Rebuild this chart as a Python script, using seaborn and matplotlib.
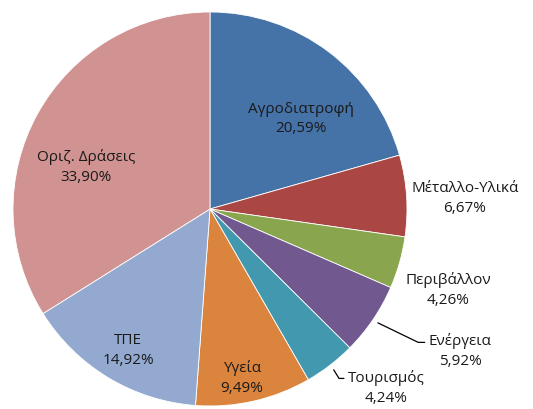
"""
Πίτα κατανομής ανά τομέα (αναπαραγωγή γραφήματος τύπου Excel).
"""
import numpy as np
import matplotlib
matplotlib.use('Agg')
import matplotlib.pyplot as plt
import seaborn as sns

# Δεδομένα
categories = ['Αγροδιατροφή', 'Μέταλλο-Υλικά', 'Περιβάλλον', 'Ενέργεια',
              'Τουρισμός', 'Υγεία', 'ΤΠΕ', 'Οριζ. Δράσεις']
shares = [20.59, 6.67, 4.26, 5.92, 4.24, 9.49, 14.92, 33.90]
colors = ['#4572A7', '#AA4643', '#89A54E', '#71588F',
          '#4198AF', '#DB843D', '#93A9CF', '#D19392']

# Θέσεις ετικετών (σε μονάδες ακτίνας της πίτας)
label_pos = [(0.462, 0.462), (1.294, 0.056), (1.208, -0.406), (1.269, -0.716),
             (0.895, -0.904), (0.162, -0.853), (-0.416, -0.711), (-0.629, 0.218)]
# Γραμμές οδηγοί: (ακτίνα αρχής, αγκώνας, τέλος)
leaders = {3: (1.03, (1.057, -0.677), (1.09, -0.677)),
           4: (1.03, (0.655, -0.86), (0.68, -0.86))}

sns.set_theme(style='white')
plt.rcParams['font.family'] = ['Open Sans', 'DejaVu Sans']

fig = plt.figure(figsize=(5.33, 4.10), dpi=100)
ax = fig.add_axes([13 / 533, 3 / 410, 394 / 533, 394 / 410])

wedges, _ = ax.pie(shares, colors=sns.color_palette(colors), startangle=90,
                   counterclock=False, radius=1.0,
                   wedgeprops=dict(edgecolor='white', linewidth=0.6))
ax.set_xlim(-1, 1)
ax.set_ylim(-1, 1)
ax.set_aspect('equal')
ax.axis('off')

for i, (cat, val) in enumerate(zip(categories, shares)):
    x, y = label_pos[i]
    pct = f'{val:.2f}%'.replace('.', ',')
    ax.text(x, y, f'{cat}\n{pct}', ha='center', va='center', fontsize=11,
            color='#1a1a1a', linespacing=1.45, clip_on=False)

for i, (r0, elbow, end) in leaders.items():
    w = wedges[i]
    theta = np.deg2rad((w.theta1 + w.theta2) / 2)
    start = (r0 * np.cos(theta), r0 * np.sin(theta))
    ax.plot([start[0], elbow[0], end[0]], [start[1], elbow[1], end[1]],
            color='black', lw=0.9, clip_on=False)

plt.savefig('out.png', dpi=100)
plt.close()
